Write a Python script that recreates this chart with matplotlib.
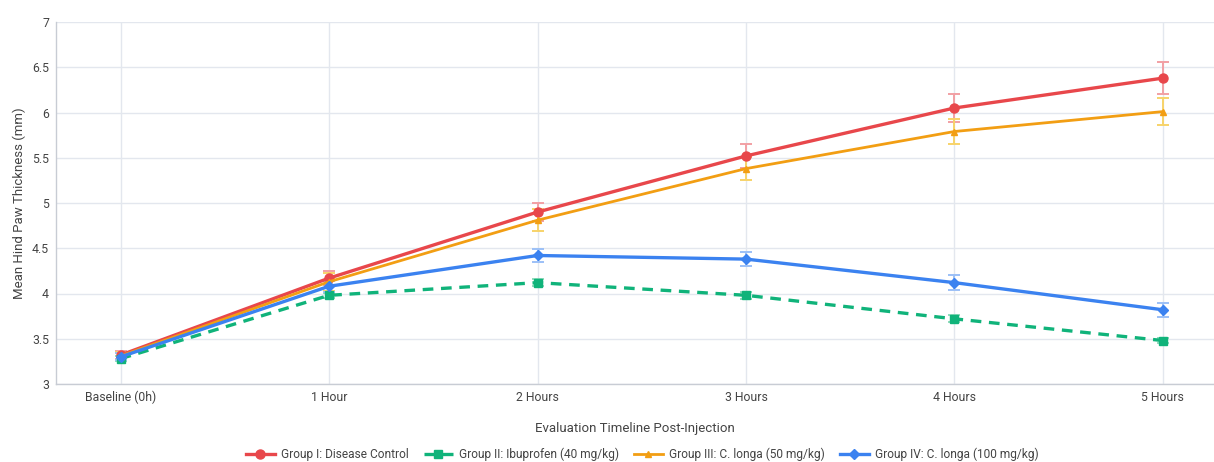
import numpy as np
import matplotlib.pyplot as plt

plt.rcParams['font.family'] = ['Roboto', 'DejaVu Sans']

# Paw oedema measurements, mean and SD per group
timepoints = ['Baseline (0h)', '1 Hour', '2 Hours', '3 Hours', '4 Hours', '5 Hours']

control_mean = [3.32, 4.17, 4.90, 5.52, 6.05, 6.38]
control_sd = [0.04, 0.08, 0.10, 0.13, 0.15, 0.18]

ibuprofen_mean = [3.28, 3.98, 4.12, 3.98, 3.72, 3.48]
ibuprofen_sd = [0.03, 0.03, 0.04, 0.04, 0.04, 0.03]

cl50_mean = [3.31, 4.13, 4.81, 5.38, 5.79, 6.01]
cl50_sd = [0.04, 0.10, 0.12, 0.13, 0.14, 0.15]

cl100_mean = [3.30, 4.08, 4.42, 4.38, 4.12, 3.82]
cl100_sd = [0.04, 0.06, 0.07, 0.08, 0.08, 0.08]

groups = [
    ('Group I: Disease Control', control_mean, control_sd, '#e8474b', '#f2a0a4', 'o', '-', 6.5, 2.4),
    ('Group II: Ibuprofen (40 mg/kg)', ibuprofen_mean, ibuprofen_sd, '#10b37a', '#8fdcbc', 's', '--', 6, 2.4),
    ('Group III: C. longa (50 mg/kg)', cl50_mean, cl50_sd, '#f29e13', '#f7d36a', '^', '-', 4.5, 2.0),
    ('Group IV: C. longa (100 mg/kg)', cl100_mean, cl100_sd, '#3b82f0', '#9cc0f7', 'D', '-', 5.5, 2.4),
]

fig = plt.figure(figsize=(12.14, 4.62), dpi=100)
ax = fig.add_axes([56 / 1214, 78 / 462, 1 - 56 / 1214, 362 / 462])

x = np.arange(len(timepoints))
for label, mean, sd, color, ecolor, marker, ls, ms, lw in groups:
    ax.errorbar(x, mean, yerr=sd, fmt='none', ecolor=ecolor, elinewidth=1.4,
                capsize=4, capthick=1.4, zorder=2)
    ax.plot(x, mean, color=color, marker=marker, linestyle=ls, linewidth=lw,
            markersize=ms, label=label, zorder=3,
            dashes=(3.2, 2.3) if ls == '--' else (None, None))

ax.set_xlim(-0.31, 5.245)
ax.set_ylim(3, 7)
ax.set_xticks(x)
ax.set_xticklabels(timepoints)
ax.set_yticks(np.arange(3, 7.01, 0.5))
ax.set_yticklabels(['3', '3.5', '4', '4.5', '5', '5.5', '6', '6.5', '7'])

ax.grid(True, color='#e3e7ee', linewidth=1)
ax.set_axisbelow(True)
for side in ['top', 'right']:
    ax.spines[side].set_visible(False)
for side in ['left', 'bottom']:
    ax.spines[side].set_color('#c8ccd4')
    ax.spines[side].set_linewidth(1)
ax.tick_params(length=0, labelsize=8.8, labelcolor='#444444', pad=5)

ax.set_ylabel('Mean Hind Paw Thickness (mm)', fontsize=9.5, color='#444444', labelpad=4)
ax.set_xlabel('Evaluation Timeline Post-Injection', fontsize=9.5, color='#444444', labelpad=13)

fig.legend(loc='center', bbox_to_anchor=(0.529, 0.017), ncol=4, frameon=False,
           fontsize=8.6, handlelength=2.4, columnspacing=1.3, handletextpad=0.5,
           labelcolor='#444444')

plt.savefig('out.png', dpi=100)
